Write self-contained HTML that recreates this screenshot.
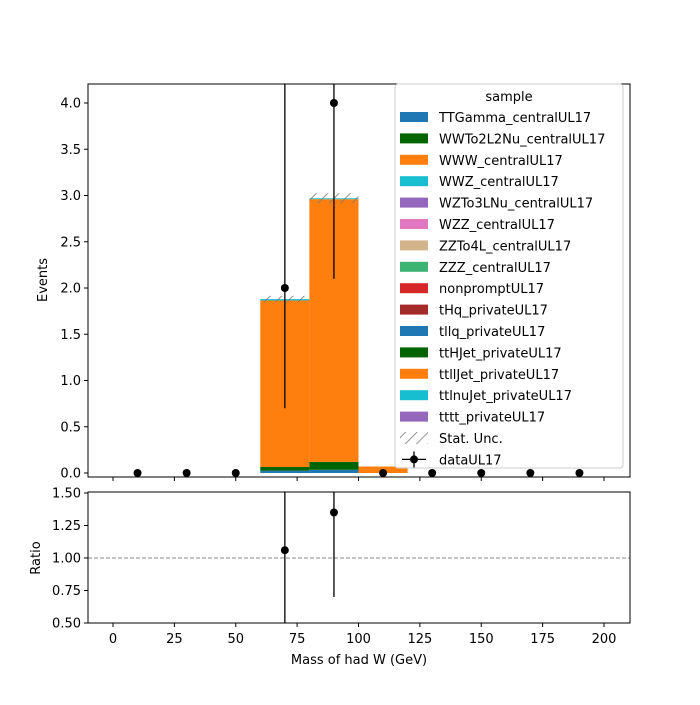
<!DOCTYPE html>
<html><head><meta charset="utf-8"><style>body{margin:0;background:#fff}svg{font-family:"DejaVu Sans","Liberation Sans",sans-serif}</style></head>
<body>
<svg id="c" width="700" height="700" xmlns="http://www.w3.org/2000/svg">
<defs><pattern id="hatch" width="8" height="8" patternUnits="userSpaceOnUse" patternTransform="rotate(45)"><line x1="0" y1="0" x2="0" y2="8" stroke="#777" stroke-width="1.6"/></pattern></defs>
<rect x="0" y="0" width="700" height="700" fill="#fff"/>
<g id="bars"></g><g id="hatches"></g><g id="pts"></g><g id="rpts"></g>
<rect x="88" y="84" width="542" height="393" fill="none" stroke="#000" stroke-width="1"/>
<rect x="88" y="492" width="542" height="131" fill="none" stroke="#000" stroke-width="1"/>
<g id="ticks" font-size="13"></g>
<text x="47" y="280" font-size="13" text-anchor="middle" transform="rotate(-90 47 280)">Events</text>
<text x="40" y="558" font-size="13" text-anchor="middle" transform="rotate(-90 40 558)">Ratio</text>
<text x="359" y="664" font-size="13" text-anchor="middle">Mass of had W (GeV)</text>
<g id="legend"></g>
</svg>
<script>
const binEdges=[60,80,100,120];
const tllq=[0.025,0.035,0];
const ttHJet=[0.04,0.085,0];
const ttllJet=[1.80,2.84,0.07];
const ttlnuJet=[0.015,0.01,0];
const unc=[0.035,0.055,0.005];
const dataX=[10,30,50,70,90,110,130,150,170,190];
const dataY=[0,0,0,2,4,0,0,0,0,0];
const dataLo=[0,0,0,0.7,2.1,0,0,0,0,0];
const dataHi=[0,0,0,4.6,6.0,0,0,0,0,0];
const ratioX=[70,90];
const ratioY=[1.06,1.35];
const ratioLo=[0.3,0.7];
const ratioHi=[2.0,2.0];
const xTicks=[0,25,50,75,100,125,150,175,200];
const yTicks=[0,0.5,1,1.5,2,2.5,3,3.5,4];
const rTicks=[0.5,0.75,1,1.25,1.5];
const legendNames=["TTGamma_centralUL17","WWTo2L2Nu_centralUL17","WWW_centralUL17","WWZ_centralUL17","WZTo3LNu_centralUL17","WZZ_centralUL17","ZZTo4L_centralUL17","ZZZ_centralUL17","nonpromptUL17","tHq_privateUL17","tllq_privateUL17","ttHJet_privateUL17","ttllJet_privateUL17","ttlnuJet_privateUL17","tttt_privateUL17"];
const legendColors=["#1f77b4","#006400","#ff7f0e","#17becf","#9467bd","#e377c2","#d2b48c","#3cb371","#d62728","#a52a2a","#1f77b4","#006400","#ff7f0e","#17becf","#9467bd"];
const NS="http://www.w3.org/2000/svg";
const X=v=>113+(v-0)*2.455;
const Y=v=>473-v*92.5;
const R=v=>623-(v-0.5)*130;
function mk(parent,tag,attrs){const e=document.createElementNS(NS,tag);for(const k in attrs)e.setAttribute(k,attrs[k]);document.getElementById(parent).appendChild(e);return e;}
// stacked bars
const layers=[[tllq,"#1f77b4","tllq"],[ttHJet,"#006400","tthjet"],[ttllJet,"#ff7f0e","ttlljet"],[ttlnuJet,"#17becf","ttlnujet"]];
for(let i=0;i<binEdges.length-1;i++){
  let base=0;
  for(const [arr,col,nm] of layers){
    if(arr[i]>0){const e=mk('bars','rect',{x:X(binEdges[i]),y:Y(base+arr[i]),width:X(binEdges[i+1])-X(binEdges[i]),height:Y(base)-Y(base+arr[i]),fill:col});
    
    }
    base+=arr[i];
  }
  if(unc[i]>0.01){const h=mk('hatches','rect',{x:X(binEdges[i]),y:Y(base+unc[i]),width:X(binEdges[i+1])-X(binEdges[i]),height:Y(base-unc[i])-Y(base+unc[i]),fill:"url(#hatch)"});
  
  }
}
// data points
for(let i=0;i<dataX.length;i++){
  if(dataHi[i]>dataLo[i]){const l=mk('pts','line',{x1:X(dataX[i]),x2:X(dataX[i]),y1:Math.max(84,Y(dataHi[i])),y2:Y(dataLo[i]),stroke:"#000","stroke-width":1.3});
  
  }
  const c=mk('pts','circle',{cx:X(dataX[i]),cy:Y(dataY[i]),r:4,fill:"#000"});
  
  
}
// ratio
const dl=mk('rpts','line',{x1:88,x2:630,y1:R(1),y2:R(1),stroke:"#888","stroke-dasharray":"4,2","stroke-width":1});


for(let i=0;i<ratioX.length;i++){
  const l=mk('rpts','line',{x1:X(ratioX[i]),x2:X(ratioX[i]),y1:Math.max(492,R(ratioHi[i])),y2:Math.min(623,R(ratioLo[i])),stroke:"#000","stroke-width":1.3});
  
  
  const c=mk('rpts','circle',{cx:X(ratioX[i]),cy:R(ratioY[i]),r:4,fill:"#000"});
  
  
}
// ticks
for(const t of xTicks){
  for(const yy of [477,623]){mk('ticks','line',{x1:X(t),x2:X(t),y1:yy,y2:yy+4,stroke:"#000"});}
  const tx=mk('ticks','text',{x:X(t),y:643,"text-anchor":"middle"});tx.textContent=t;
  
  
}
for(const t of yTicks){
  mk('ticks','line',{x1:84,x2:88,y1:Y(t),y2:Y(t),stroke:"#000"});
  const tx=mk('ticks','text',{x:81,y:Y(t)+4.5,"text-anchor":"end"});tx.textContent=t.toFixed(1);
  
  
}
for(const t of rTicks){
  mk('ticks','line',{x1:84,x2:88,y1:R(t),y2:R(t),stroke:"#000"});
  const tx=mk('ticks','text',{x:81,y:R(t)+4.5,"text-anchor":"end"});tx.textContent=t.toFixed(2);
  
  
}
// legend
mk('legend','rect',{x:395,y:84,width:228,height:384,rx:3,fill:"#fff","fill-opacity":0.85,stroke:"#ccc"});
const tt=mk('legend','text',{x:509,y:101,"text-anchor":"middle","font-size":13});tt.textContent="sample";
for(let i=0;i<legendNames.length;i++){
  const y=117+i*21.4;
  const r=mk('legend','rect',{x:400,y:y-5,width:28,height:10,fill:legendColors[i]});
  
  
  const t=mk('legend','text',{x:439,y:y+5,"font-size":13});t.textContent=legendNames[i];
  
  
}
let y=117+15*21.4;
mk('legend','rect',{x:400,y:y-6,width:28,height:12,fill:"url(#hatch)"});
let t=mk('legend','text',{x:439,y:y+5,"font-size":13});t.textContent="Stat. Unc.";


y+=21.4;
mk('legend','line',{x1:414,x2:414,y1:y-8,y2:y+8,stroke:"#000","stroke-width":1.3});
mk('legend','line',{x1:402,x2:426,y1:y,y2:y,stroke:"#000","stroke-width":1.3});
mk('legend','circle',{cx:414,cy:y,r:4,fill:"#000"});
t=mk('legend','text',{x:439,y:y+5,"font-size":13});t.textContent="dataUL17";


</script>
</body></html>
